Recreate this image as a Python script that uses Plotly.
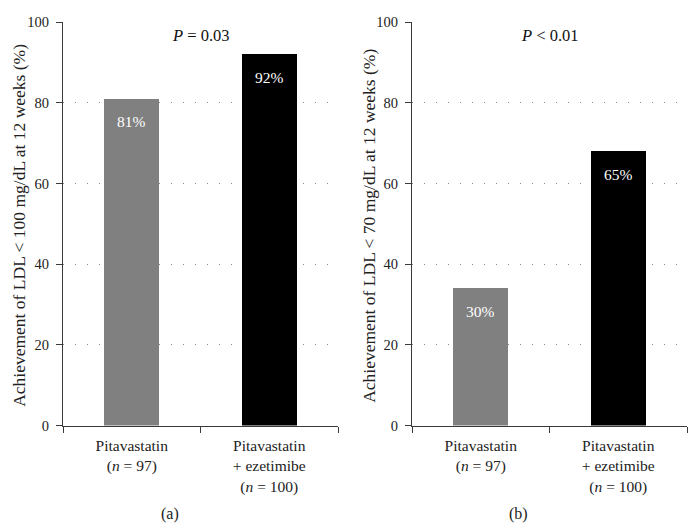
import plotly.graph_objects as go

# ---- data ----
categories = ["Pitavastatin<br>(<i>n</i> = 97)",
              "Pitavastatin<br>+ ezetimibe<br>(<i>n</i> = 100)"]
values_a = [81, 92]
labels_a = ["81%", "92%"]
values_b = [34, 68]
labels_b = ["30%", "65%"]
pvalue_a = "<i>P</i> = 0.03"
pvalue_b = "<i>P</i> < 0.01"
ytitle_a = "Achievement of LDL < 100 mg/dL at 12 weeks (%)"
ytitle_b = "Achievement of LDL < 70 mg/dL at 12 weeks (%)"
panel_labels = ["(a)", "(b)"]
bar_colors = ["#808080", "#000000"]
y_ticks = [0, 20, 40, 60, 80, 100]

FONT = "Liberation Serif"
W, H = 697, 530
# page placement of the plot div observed in the renderer
OX, OY, HE = 8, 17, 512


def px(x):
    return (x - OX) / W


def py(y):
    return 1 - (y - OY) / HE


fig = go.Figure()
fig.add_trace(go.Bar(x=categories, y=values_a, marker=dict(color=bar_colors, line=dict(width=0)),
                     width=0.4, xaxis="x", yaxis="y", showlegend=False, hoverinfo="skip"))
fig.add_trace(go.Bar(x=categories, y=values_b, marker=dict(color=bar_colors, line=dict(width=0)),
                     width=0.4, xaxis="x2", yaxis="y2", showlegend=False, hoverinfo="skip"))

ydom = [py(425), py(23)]
xdom1 = [px(63), px(338)]
xdom2 = [px(412), px(687)]

axis_col = "#3a3a3a"
common_x = dict(showline=True, linecolor=axis_col, linewidth=1.3, ticks="outside", ticklen=6,
                tickcolor=axis_col, tickson="boundaries", showgrid=False, zeroline=False,
                ticklabelstandoff=6,
                tickfont=dict(family=FONT, size=15.5, color="#222"), fixedrange=True)
common_y = dict(range=[0, 100], tickvals=y_ticks, showline=True, linecolor=axis_col, linewidth=1.3,
                ticks="outside", ticklen=6, tickcolor=axis_col, showgrid=True, gridcolor="#8a8a8a",
                griddash="1px,11px", gridwidth=1, zeroline=False, ticklabelstandoff=4,
                ticklabeloverflow="allow",
                tickfont=dict(family=FONT, size=14.5, color="#222"), fixedrange=True)

fig.update_layout(
    width=W, height=H, autosize=False, margin=dict(l=0, r=0, t=0, b=0),
    paper_bgcolor="white", plot_bgcolor="white", bargap=0,
    font=dict(family=FONT),
    xaxis=dict(domain=xdom1, anchor="y", **common_x),
    yaxis=dict(domain=ydom, anchor="x", **common_y),
    xaxis2=dict(domain=xdom2, anchor="y2", **common_x),
    yaxis2=dict(domain=ydom, anchor="x2", **common_y),
)

C = dict(showarrow=False, xanchor="center", yanchor="middle")
ann = []
for xa, ya, vals, labs in [("x", "y", values_a, labels_a), ("x2", "y2", values_b, labels_b)]:
    for c, v, l in zip(categories, vals, labs):
        ann.append(dict(x=c, y=v, xref=xa, yref=ya, text=l, yshift=-23,
                        font=dict(family=FONT, size=15.5, color="white"), **C))
ann.append(dict(x=0.5, y=py(36), xref="x domain", yref="paper", text=pvalue_a,
                font=dict(family=FONT, size=16.5, color="#111"), **C))
ann.append(dict(x=0.5, y=py(36), xref="x2 domain", yref="paper", text=pvalue_b,
                font=dict(family=FONT, size=16.5, color="#111"), **C))
ann.append(dict(x=px(19), y=py(226), xref="paper", yref="paper", text=ytitle_a, textangle=-90,
                font=dict(family=FONT, size=17.5, color="#222"), **C))
ann.append(dict(x=px(369), y=py(226), xref="paper", yref="paper", text=ytitle_b, textangle=-90,
                font=dict(family=FONT, size=17.5, color="#222"), **C))
ann.append(dict(x=px(170), y=py(513), xref="paper", yref="paper", text=panel_labels[0],
                font=dict(family=FONT, size=16, color="#222"), **C))
ann.append(dict(x=px(518), y=py(513), xref="paper", yref="paper", text=panel_labels[1],
                font=dict(family=FONT, size=16, color="#222"), **C))
fig.update_layout(annotations=ann)

fig.write_html("out.html")
